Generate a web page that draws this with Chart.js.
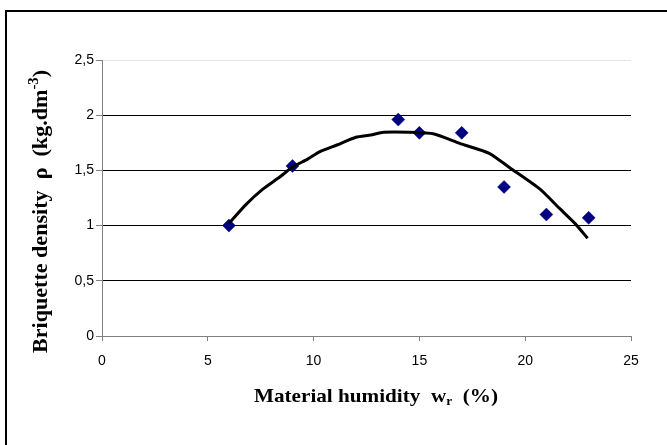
<!DOCTYPE html>
<html>
<head>
<meta charset="utf-8">
<script src="https://cdn.jsdelivr.net/npm/chart.js@4"></script>
<style>
  html, body { margin: 0; padding: 0; background: #fff; }
  #wrap { position: relative; width: 667px; height: 445px; }
</style>
</head>
<body>
<div id="wrap"><canvas id="c" width="667" height="445"></canvas></div>
<script>
// Measured points
const humidity = [6, 9, 14, 15, 17, 19, 21, 23];
const density = [1.00, 1.54, 1.96, 1.84, 1.84, 1.35, 1.10, 1.07];

// Trend line
const trendX = [6, 6.8, 7.6, 8.4, 9.0, 9.7, 10.3, 11.1, 12.0, 12.7, 13.3, 14.5, 15.7, 16.9, 18.3, 19.3, 20.7, 21.6, 22.35, 22.95];
const trendY = [1.02, 1.19, 1.33, 1.44, 1.53, 1.60, 1.67, 1.73, 1.80, 1.82, 1.845, 1.845, 1.83, 1.745, 1.655, 1.52, 1.33, 1.16, 1.02, 0.885];

// Tick labels
const xTickValues = [0, 5, 10, 15, 20, 25];
const xTickLabels = ['0', '5', '10', '15', '20', '25'];
const yTickValues = [0, 0.5, 1, 1.5, 2, 2.5];
const yTickLabels = ['0', '0,5', '1', '1,5', '2', '2,5'];

// Axis titles (main text + sub/superscript parts)
const xTitleParts = [{ t: 'Material humidity  w' }, { t: 'r', sub: true }, { t: '  (%)' }];
const yTitleParts = [{ t: 'Briquette density  ρ  (kg.dm' }, { t: '-3', sup: true }, { t: ')' }];

const SERIF = '"Liberation Serif", "Times New Roman", serif';
const SANS = '"Liberation Sans", Arial, sans-serif';

function drawParts(ctx, parts, cx, baseY, size, targetWidth) {
  const mainFont = 'bold ' + size + 'px ' + SERIF;
  const smallFont = 'bold ' + Math.round(size * 0.65) + 'px ' + SERIF;
  let total = 0;
  const widths = parts.map(p => {
    ctx.font = (p.sub || p.sup) ? smallFont : mainFont;
    const w = ctx.measureText(p.t).width;
    total += w;
    return w;
  });
  const sx = targetWidth ? targetWidth / total : 1;
  ctx.save();
  ctx.translate(cx - total * sx / 2, baseY);
  ctx.scale(sx, 1);
  let x = 0;
  ctx.textAlign = 'left';
  ctx.textBaseline = 'alphabetic';
  ctx.fillStyle = '#000';
  parts.forEach((p, i) => {
    ctx.font = (p.sub || p.sup) ? smallFont : mainFont;
    let y = 0;
    if (p.sub) y += size * 0.18;
    if (p.sup) y -= size * 0.42;
    ctx.fillText(p.t, x, y);
    x += widths[i];
  });
  ctx.restore();
}

const decorPlugin = {
  id: 'decor',
  afterDraw(chart) {
    const ctx = chart.ctx;
    ctx.save();
    // outer frame
    ctx.strokeStyle = '#000';
    ctx.lineWidth = 2;
    ctx.strokeRect(6, 11, 700, 500);
    // x title
    drawParts(ctx, xTitleParts, 376, 402, 19, 244);
    // y title
    ctx.translate(47, 211.5);
    ctx.rotate(-Math.PI / 2);
    drawParts(ctx, yTitleParts, 0, 0, 21, 283);
    ctx.restore();
  }
};

new Chart(document.getElementById('c'), {
  type: 'scatter',
  data: {
    datasets: [
      {
        label: 'trend',
        data: trendX.map((x, i) => ({ x: x, y: trendY[i] })),
        showLine: true,
        borderColor: '#000',
        borderWidth: 3,
        pointRadius: 0,
        tension: 0.2,
        order: 0
      },
      {
        label: 'density',
        data: humidity.map((x, i) => ({ x: x, y: density[i] })),
        pointStyle: 'rectRot',
        pointRadius: 6.5,
        pointBackgroundColor: '#000080',
        pointBorderColor: '#000080',
        pointBorderWidth: 0.5,
        order: 1
      }
    ]
  },
  options: {
    responsive: false,
    animation: false,
    devicePixelRatio: 1,
    layout: { padding: { left: 0, top: 60, right: 36, bottom: 0 } },
    plugins: { legend: { display: false }, tooltip: { enabled: false } },
    scales: {
      x: {
        type: 'linear',
        min: 0, max: 25,
        afterBuildTicks(scale) { scale.ticks = xTickValues.map(v => ({ value: v })); },
        afterFit(scale) { scale.height = 109; },
        ticks: {
          color: '#000',
          font: { family: SANS, size: 14 },
          padding: 12,
          maxRotation: 0,
          callback: (v) => xTickLabels[xTickValues.indexOf(v)]
        },
        grid: { drawOnChartArea: false, drawTicks: true, tickLength: 5, tickColor: '#808080' },
        border: { color: '#808080', width: 1 }
      },
      y: {
        type: 'linear',
        min: 0, max: 2.5,
        afterBuildTicks(scale) { scale.ticks = yTickValues.map(v => ({ value: v })); },
        afterFit(scale) { scale.width = 102; },
        ticks: {
          color: '#000',
          font: { family: SANS, size: 14 },
          padding: 2,
          callback: (v) => yTickLabels[yTickValues.indexOf(v)]
        },
        grid: {
          drawTicks: true,
          tickLength: 6,
          tickColor: '#808080',
          color: (c) => c.tick && c.tick.value === 2.5 ? '#e4e4e4' : (c.tick && c.tick.value === 0 ? 'rgba(0,0,0,0)' : '#000'),
          lineWidth: 1
        },
        border: { color: '#808080', width: 1 }
      }
    }
  },
  plugins: [decorPlugin]
});
</script>
</body>
</html>
